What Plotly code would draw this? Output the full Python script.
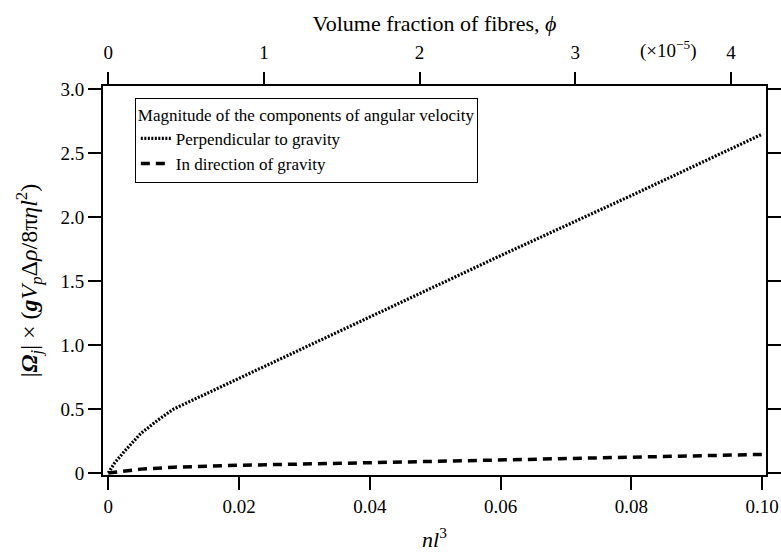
import plotly.graph_objects as go

# Rotation-rate components versus number density nl^3
nl3_perp = [0.0, 0.001, 0.0025, 0.005, 0.0075, 0.01, 0.02, 0.04, 0.06, 0.08, 0.10]
omega_perp = [0.0, 0.08, 0.17, 0.31, 0.41, 0.50, 0.74, 1.22, 1.70, 2.17, 2.65]

nl3_grav = [0.0, 0.0025, 0.005, 0.01, 0.02, 0.04, 0.06, 0.08, 0.10]
omega_grav = [0.0, 0.015, 0.03, 0.045, 0.06, 0.08, 0.10, 0.12, 0.145]

# Bottom axis (nl^3) and top axis (volume fraction, units of 1e-5)
x_ticks = [0, 0.02, 0.04, 0.06, 0.08, 0.10]
x_ticktext = ["0", "0.02", "0.04", "0.06", "0.08", "0.10"]
phi_ticks = [0, 1, 2, 3, 4]
phi_per_nl3 = 42.0  # phi / 1e-5 for unit nl^3
y_ticks = [0, 0.5, 1.0, 1.5, 2.0, 2.5, 3.0]
y_ticktext = ["0", "0.5", "1.0", "1.5", "2.0", "2.5", "3.0"]

x_range = [-0.0008, 0.1006]
y_range = [-0.016, 3.027]

FONT = "Liberation Serif"

fig = go.Figure()
fig.add_trace(go.Scatter(
    x=nl3_perp, y=omega_perp, mode="lines",
    name="Perpendicular to gravity",
    line=dict(color="black", width=3.2, dash="2px,1.5px"),
))
fig.add_trace(go.Scatter(
    x=nl3_grav, y=omega_grav, mode="lines",
    name="In direction of gravity",
    line=dict(color="black", width=3.5, dash="9px,6px"),
))
# same curve on the volume-fraction axis (hidden) so the top axis is tied to data
fig.add_trace(go.Scatter(
    x=[v * phi_per_nl3 for v in nl3_perp], y=omega_perp, xaxis="x2",
    mode="lines", line=dict(width=0, color="rgba(0,0,0,0)"),
    showlegend=False, hoverinfo="skip",
))

axis_common = dict(
    showgrid=False, zeroline=False, ticks="outside", ticklen=13, tickwidth=2,
    tickcolor="black", tickfont=dict(family=FONT, size=19, color="black"),
    automargin=False,
)

fig.update_layout(
    width=781, height=555,
    margin=dict(l=103, r=15, t=86, b=80),
    paper_bgcolor="white", plot_bgcolor="white",
    font=dict(family=FONT, color="black"),
    showlegend=True,
    legend=dict(
        x=0.048, y=0.97, xanchor="left", yanchor="top",
        bgcolor="white", bordercolor="black", borderwidth=1,
        font=dict(family=FONT, size=17, color="black"),
        title=dict(text="Magnitude of the components of angular velocity",
                   font=dict(family=FONT, size=17, color="black")),
        tracegroupgap=0, itemwidth=30,
    ),
    xaxis=dict(
        range=x_range, tickvals=x_ticks, ticktext=x_ticktext,
        showline=True, linewidth=2, linecolor="black", mirror=True,
        title=dict(text="<i>nl</i><sup>3</sup>", font=dict(family=FONT, size=22),
                   standoff=16),
        **axis_common,
    ),
    xaxis2=dict(
        overlaying="x", side="top", anchor="y",
        range=[v * phi_per_nl3 for v in x_range],
        tickvals=phi_ticks, ticktext=[str(t) for t in phi_ticks],
        showline=False, ticklabelstandoff=5,
        title=dict(text="Volume fraction of fibres, <i>ϕ</i>",
                   font=dict(family=FONT, size=22), standoff=4),
        **axis_common,
    ),
    yaxis=dict(
        range=y_range, tickvals=y_ticks, ticktext=y_ticktext,
        showline=True, linewidth=2, linecolor="black", mirror="ticks",
        title=dict(
            text="|<b><i>Ω</i></b><sub><i>j</i></sub>| × (<b><i>g</i></b><i>V</i><sub><i>p</i></sub>Δ<i>ρ</i>/8π<i>ηl</i><sup>2</sup>)",
            font=dict(family=FONT, size=24), standoff=16),
        **axis_common,
    ),
)

fig.add_annotation(
    x=3.6, y=1, xref="x2", yref="paper", yanchor="bottom",
    yshift=22, showarrow=False,
    text="(×10<sup>−5</sup>)", font=dict(family=FONT, size=19, color="black"),
)

fig.write_html("out.html")
